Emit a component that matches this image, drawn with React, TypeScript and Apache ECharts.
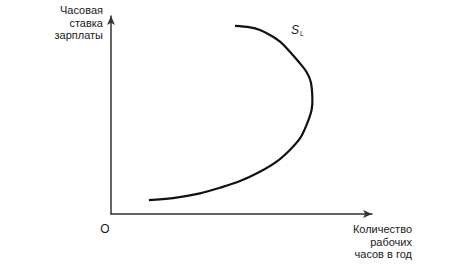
import React, { useEffect, useRef } from "react";
import * as echarts from "echarts";

// Labour supply curve S_L (hours, wage) in axis units
const hours = [14.3, 23.4, 33.6, 41.1, 48.7, 56.2, 62.5, 67.5, 71.3, 73.8, 75.7, 76.0, 75.4, 73.8, 70.9, 67.5, 63.8, 60.0, 56.2, 52.5, 46.8];
const wage = [6.9, 7.9, 10.2, 13.0, 16.3, 20.9, 25.9, 31.7, 37.4, 44.1, 51.5, 57.4, 65.3, 70.3, 75.2, 80.3, 85.3, 88.6, 91.1, 92.4, 93.1];
const yLabel = ["Часовая", "ставка", "зарплаты"];
const xLabel = ["Количество", "рабочих", "часов в год"];
const originLabel = "O";
const curveLabel = ["S", "L"];

export default function App() {
  const ref = useRef<HTMLDivElement>(null);
  useEffect(() => {
    document.body.style.margin = "0";
    const chart = echarts.init(ref.current!, null, { renderer: "svg" });
    const font = "Liberation Sans, Arial, sans-serif";
    const data = hours.map((h, i) => [h, wage[i]]);
    chart.setOption({
      animation: false,
      backgroundColor: "#fff",
      grid: { left: 111, top: 16, width: 261, height: 198 },
      xAxis: {
        type: "value",
        min: 0,
        max: 98.5,
        axisLine: {
          show: true,
          symbol: ["none", "arrow"],
          symbolSize: [6, 9],
          lineStyle: { color: "#333", width: 1.5 },
        },
        axisTick: { show: false },
        axisLabel: { show: false },
        splitLine: { show: false },
      },
      yAxis: {
        type: "value",
        min: 0,
        max: 98,
        axisLine: {
          show: true,
          symbol: ["none", "arrow"],
          symbolSize: [6, 9],
          lineStyle: { color: "#333", width: 1.5 },
        },
        axisTick: { show: false },
        axisLabel: { show: false },
        splitLine: { show: false },
      },
      series: [
        {
          type: "custom",
          data,
          encode: { x: 0, y: 1 },
          renderItem: (params: any, api: any) => {
            if (params.dataIndex !== 0) return null;
            const points = data.map((d) => api.coord(d));
            return {
              type: "polyline",
              shape: { points, smooth: 0.35 },
              style: { stroke: "#111", lineWidth: 2.2, fill: "none" },
            };
          },
        },
      ],
      graphic: [
        {
          type: "text",
          x: 103,
          y: 4,
          style: {
            text: yLabel.join("\n"),
            font: `11px ${font}`,
            lineHeight: 12.5,
            align: "right",
            verticalAlign: "top",
            fill: "#1a1a1a",
          },
        },
        {
          type: "text",
          x: 412,
          y: 223,
          style: {
            text: xLabel.join("\n"),
            font: `11px ${font}`,
            lineHeight: 12.5,
            align: "right",
            verticalAlign: "top",
            fill: "#1a1a1a",
          },
        },
        {
          type: "text",
          x: 105,
          y: 229,
          style: {
            text: originLabel,
            font: `12px ${font}`,
            align: "center",
            verticalAlign: "middle",
            fill: "#1a1a1a",
          },
        },
        {
          type: "text",
          x: 291,
          y: 24,
          style: {
            text: `{s|${curveLabel[0]}}{l|${curveLabel[1]}}`,
            rich: {
              s: { font: `italic 12px ${font}`, fill: "#1a1a1a", verticalAlign: "top" },
              l: { font: `7px ${font}`, fill: "#1a1a1a", padding: [6, 0, 0, 1] },
            },
            verticalAlign: "top",
          },
        },
      ],
    });
    return () => chart.dispose();
  }, []);
  return <div ref={ref} style={{ width: 460, height: 272 }} />;
}
